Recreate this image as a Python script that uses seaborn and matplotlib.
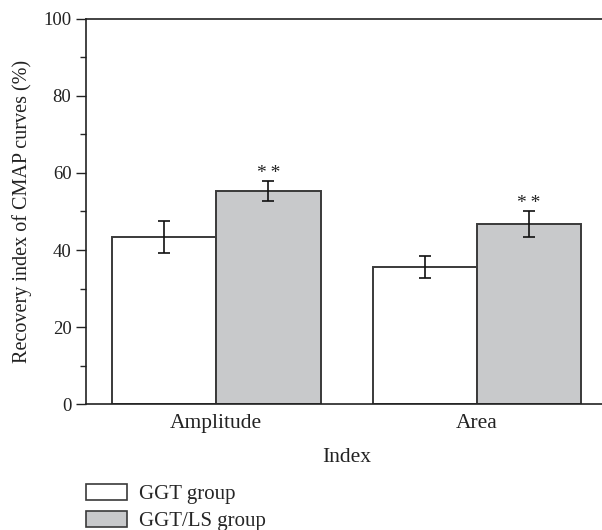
import pandas as pd
import matplotlib
matplotlib.use("Agg")
import matplotlib.pyplot as plt
import matplotlib.patches as mpatches
import seaborn as sns

# ── Data ──────────────────────────────────────────────────
categories = ["Amplitude", "Area"]
groups = ["GGT group", "GGT/LS group"]
ggt_mean = [43.4, 35.6]
ggt_err = [4.1, 2.8]
ls_mean = [55.3, 46.8]
ls_err = [2.5, 3.3]
sig_marks = ["", "**"]

COLORS = {"GGT group": "#ffffff", "GGT/LS group": "#c8c9cb"}
EDGE = "#3a3a3a"

df = pd.DataFrame({
    "Index": categories * 2,
    "Group": [groups[0]] * 2 + [groups[1]] * 2,
    "value": ggt_mean + ls_mean,
    "err": ggt_err + ls_err,
    "mark": [sig_marks[0]] * 2 + [sig_marks[1]] * 2,
})

sns.set_theme(style="ticks")
plt.rcParams["font.family"] = ["Liberation Serif", "DejaVu Serif"]
plt.rcParams["font.size"] = 14

fig = plt.figure(figsize=(6.02, 5.30), dpi=100)
ax = fig.add_axes([0.1429, 0.2377, 0.8571, 0.7265])

sns.barplot(data=df, x="Index", y="value", hue="Group", order=categories,
            hue_order=groups, palette=COLORS, edgecolor=EDGE, linewidth=1.4,
            width=0.8, gap=0, errorbar=None, legend=False, ax=ax)

# error bars + significance marks at the bar centres
for bar, (_, row) in zip(ax.patches, df.iterrows()):
    cx = bar.get_x() + bar.get_width() / 2
    ax.errorbar(cx, row["value"], yerr=row["err"], fmt="none", ecolor="#111111",
                elinewidth=1.2, capsize=4, capthick=1.2, zorder=5)
    if row["mark"]:
        ax.text(cx, row["value"] + row["err"] - 0.2, "\u2009".join(row["mark"]),
                ha="center", va="bottom", fontsize=14, color="#222222")

ax.set_ylim(0, 100)
ax.set_xlim(-0.5, 1.48)
ax.set_yticks(range(0, 101, 20))
ax.set_yticks(range(10, 100, 20), minor=True)
ax.tick_params(axis="y", which="major", length=7, width=1, labelsize=13.5, colors="#222222")
ax.tick_params(axis="y", which="minor", length=4, width=1)
ax.tick_params(axis="x", length=0, labelsize=15.5, pad=7, colors="#222222")
ax.set_ylabel("Recovery index of CMAP curves (%)", fontsize=14.5, labelpad=8, color="#222222")
ax.set_xlabel("Index", fontsize=15.5, color="#222222")
ax.xaxis.set_label_coords(0.506, -0.115)
for side in ["left", "top", "bottom"]:
    ax.spines[side].set_color("#222222")
    ax.spines[side].set_linewidth(1.2)
ax.spines["right"].set_visible(False)

handles = [mpatches.Patch(facecolor=COLORS[g], edgecolor=EDGE, linewidth=1.2, label=g)
           for g in groups]
fig.legend(handles=handles, loc="upper left", bbox_to_anchor=(0.1429, 0.0865),
           frameon=False, handlelength=1.97, handleheight=0.77, handletextpad=0.58,
           labelspacing=0.34, fontsize=15, borderaxespad=0, borderpad=0)

plt.savefig("out.png", dpi=100)
plt.close()
